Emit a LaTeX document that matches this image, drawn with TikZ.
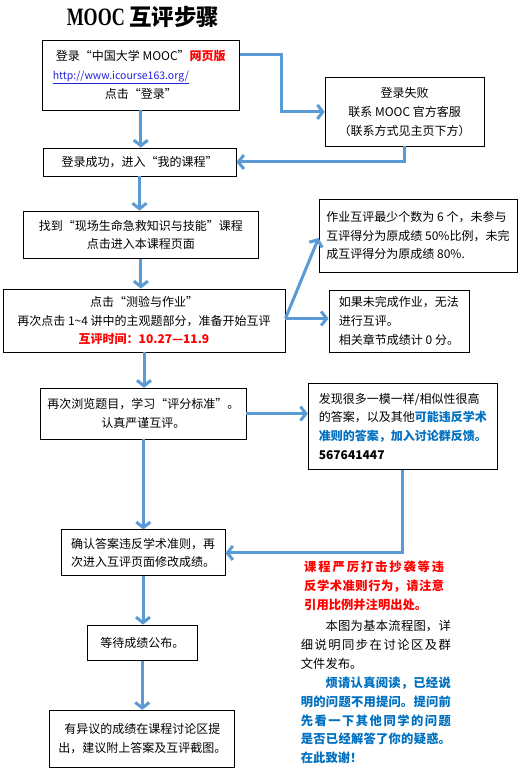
\documentclass[tikz,border=0pt]{standalone}
\usepackage{fontspec}
\setmainfont{Noto Sans CJK SC}
\newfontfamily\titlefont{Liberation Serif}[FakeStretch=0.72]
\usetikzlibrary{arrows.meta,calc}
\definecolor{flowblue}{HTML}{5B9BD5}
\definecolor{alertred}{HTML}{FF0000}
\definecolor{noteblue}{HTML}{0070C0}
\definecolor{linkblue}{HTML}{2222DD}
\XeTeXlinebreaklocale "zh"
\XeTeXlinebreakskip=0pt plus 1pt
\tikzset{
 box/.style={draw,line width=0.9pt,align=center,inner sep=0pt,
             font=\fontsize{12}{18.7}\selectfont},
 note/.style={anchor=base west,inner sep=0pt,align=justify,
              font=\fontsize{12.3}{18.8}\selectfont},
 arrow/.style={-{Straight Barb[length=5.5pt,width=14pt]},line width=3pt,flowblue},
}

\begin{document}
\begin{tikzpicture}[x=1pt,y=-1pt]
\path[fill=white,use as bounding box] (0,0) rectangle (530,775);
\node[font=\titlefont\bfseries\fontsize{25}{25}\selectfont] (title) at (143,17)
  {MOOC {\normalfont\bfseries\fontsize{22.5}{22.5}\selectfont 互评步骤}};
% main column
\node[box,minimum width=197.5pt,minimum height=70pt] (login) at (140.8,75)
  {登录“中国大学 MOOC”{\color{alertred}\bfseries 网页版}\\
   \makebox[176pt][l]{\fontsize{10.5}{12}\selectfont\color{linkblue}\underline{http://www.icourse163.org/}}\\
   点击“登录”};
\node[box,minimum width=193pt,minimum height=28pt] (ok) at (139.5,162)
  {登录成功，进入“我的课程”};
\node[box,minimum width=234.3pt,minimum height=47.4pt] (find) at (140.9,234.8)
  {找到“现场生命急救知识与技能”课程\\点击进入本课程页面};
\node[box,minimum width=282pt,minimum height=63pt] (quiz) at (144,320.5)
  {点击“测验与作业”\\再次点击 1\textasciitilde4 讲中的主观题部分，准备开始互评\\
   {\color{alertred}\bfseries 互评时间：10.27—11.9}};
\node[box,minimum width=205.3pt,minimum height=50.8pt] (review) at (143.3,413.6)
  {再次浏览题目，学习“评分标准”。\\认真严谨互评。};
\node[box,align=left,minimum width=164pt,minimum height=46pt] (confirm) at (143,552.9)
  {确认答案违反学术准则，再\\次进入互评页面修改成绩。};
\node[box,minimum width=109.7pt,minimum height=35.2pt] (wait) at (142.3,642.6)
  {等待成绩公布。};
\node[box,minimum width=185pt,minimum height=57pt] (final) at (142.3,738.8)
  {有异议的成绩在课程讨论区提\\出，建议附上答案及互评截图。};
% side boxes
\node[box,minimum width=159pt,minimum height=68.3pt] (fail) at (404.7,111.9)
  {登录失败\\联系 MOOC 官方客服\\（联系方式见主页下方）};
\node[box,align=left,minimum width=198pt,minimum height=73pt] (minimum) at (418,235.5)
  {作业互评最少个数为 6 个，未参与\\互评得分为原成绩 50\%比例，未完\\成互评得分为原成绩 80\%.};
\node[box,align=left,minimum width=140pt,minimum height=62pt] (unfinished) at (399,321)
  {如果未完成作业，无法\\进行互评。\\相关章节成绩计 0 分。};
\node[box,align=left,minimum width=189pt,minimum height=86pt] (report) at (402.8,426.3)
  {发现很多一模一样/相似性很高\\的答案，以及其他{\color{noteblue}\bfseries 可能违反学术}\\
   {\color{noteblue}\bfseries 准则的答案，加入讨论群反馈。}\\{\bfseries 567641447}};
% notes
\node[note,text width=140pt,text=alertred] (warn) at (304,571.4)
  {\bfseries 课程严厉打击抄袭等违\break 反学术准则行为，请注意\break 引用比例并注明出处。};
\node[note,text width=150pt] (about) at (300.7,630.7)
  {\hspace*{2em}本图为基本流程图，详\break 细说明同步在讨论区及群\break 文件发布。};
\node[note,text width=150pt,text=noteblue] (please) at (300.7,687.4)
  {\bfseries\hspace*{2em}烦请认真阅读，已经说\break 明的问题不用提问。提问前\break
   先看一下其他同学的问题\break 是否已经解答了你的疑惑。\break 在此致谢！};
% arrows
\draw[arrow] (login) -- (login |- ok.north);
\draw[arrow] ([yshift=20pt]login.east) -- ++(41.5,0) |- (fail.west);
\draw[arrow] (fail.south) |- (ok.east);
\draw[arrow] (ok) -- (ok |- find.north);
\draw[arrow] (find) -- (find |- quiz.north);
\draw[arrow] ([yshift=2pt]quiz.east) -- ([yshift=-2.5pt]minimum.west);
\draw[arrow] ([yshift=2pt]quiz.east) -- ([yshift=2pt]quiz.east -| unfinished.west);
\draw[arrow] (quiz) -- (quiz |- review.north);
\draw[arrow] (review.east) -- (review.east -| report.west);
\draw[arrow] (review) -- (review |- confirm.north);
\draw[arrow] (report.south) |- (confirm.east);
\draw[arrow] (confirm) -- (confirm |- wait.north);
\draw[arrow] (wait) -- (wait |- final.north);
\end{tikzpicture}
\end{document}
